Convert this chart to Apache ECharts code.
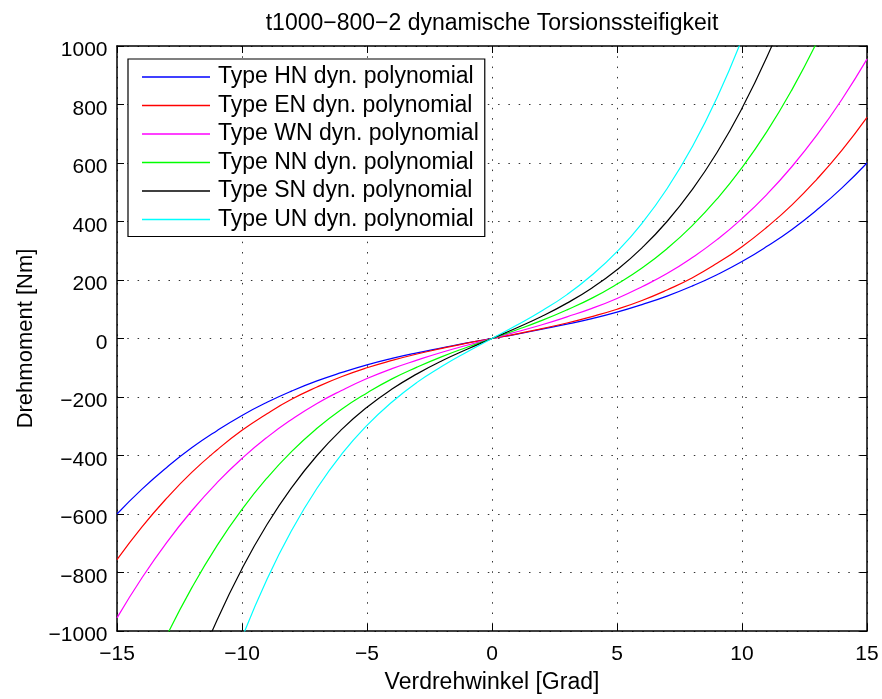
<!DOCTYPE html>
<html>
<head>
<meta charset="utf-8">
<script src="https://cdn.jsdelivr.net/npm/echarts@6/dist/echarts.min.js"></script>
<style>
html,body{margin:0;padding:0;background:#fff;}
#c{width:882px;height:699px;}
</style>
</head>
<body>
<div id="c"></div>
<script>
const xs = [-15,-14,-13,-12,-11,-10,-9,-8,-7,-6,-5,-4,-3,-2,-1,0,1,2,3,4,5,6,7,8,9,10,11,12,13,14,15];
const seriesNames = ['Type HN dyn. polynomial','Type EN dyn. polynomial','Type WN dyn. polynomial','Type NN dyn. polynomial','Type SN dyn. polynomial','Type UN dyn. polynomial'];
const seriesColors = ['#0000ff','#ff0000','#ff00ff','#00ff00','#000000','#00ffff'];
const hn = [-600,-515,-440,-373,-315,-263,-218,-179,-145,-116,-90,-68,-49,-32,-15,0,15,32,49,68,90,116,145,179,218,263,315,373,440,515,600];
const en = [-756,-644,-545,-457,-381,-314,-257,-207,-166,-130,-100,-75,-53,-34,-16,0,16,34,53,75,100,130,166,207,257,314,381,457,545,644,756];
const wn = [-955,-818,-696,-588,-493,-410,-338,-276,-222,-177,-137,-103,-74,-47,-23,0,23,47,74,103,137,177,222,276,338,410,493,588,696,818,955];
const nn = [-1408,-1199,-1014,-851,-708,-584,-477,-385,-307,-241,-186,-138,-98,-62,-30,0,30,62,98,138,186,241,307,385,477,584,708,851,1014,1199,1408];
const sn = [-1973,-1670,-1402,-1167,-963,-787,-636,-508,-400,-310,-235,-173,-121,-76,-37,0,37,76,121,173,235,310,400,508,636,787,963,1167,1402,1670,1973];
const un = [-2612,-2205,-1846,-1532,-1259,-1024,-823,-654,-512,-394,-297,-217,-150,-95,-46,0,46,95,150,217,297,394,512,654,823,1024,1259,1532,1846,2205,2612];
const xTicks = [-15,-10,-5,0,5,10,15];
const yTicks = [-1000,-800,-600,-400,-200,0,200,400,600,800,1000];

const allVals = [hn,en,wn,nn,sn,un];
const FONT = "'Liberation Sans', Arial, Helvetica, sans-serif";
const fmt = v => String(v).replace('-', '\u2212');

const chart = echarts.init(document.getElementById('c'));
const gridDots = {show:true, lineStyle:{color:'#333', width:1, type:[1.5,8.8]}};
chart.setOption({
  animation:false,
  backgroundColor:'#fff',
  title:{
    text:'t1000\u2212800\u22122 dynamische Torsionssteifigkeit',
    left:492, textAlign:'center', top:12, padding:0,
    textStyle:{fontFamily:FONT, fontSize:23, fontWeight:'normal', color:'#000'}
  },
  grid:{left:117, right:15, top:46, bottom:61, containLabel:false},
  legend:{
    orient:'vertical', left:128, top:59,
    padding:[6,6,5,14], itemGap:4.5, itemWidth:68, itemHeight:1.4,
    icon:'rect',
    backgroundColor:'#fff', borderColor:'#000', borderWidth:1.2, borderRadius:0,
    textStyle:{fontFamily:FONT, fontSize:23, color:'#000', lineHeight:24, padding:[0,0,0,3]},
    data:seriesNames
  },
  xAxis:[{
    type:'value', min:-15, max:15, interval:5, position:'bottom',
    name:'Verdrehwinkel [Grad]', nameLocation:'middle', nameGap:40,
    nameTextStyle:{fontFamily:FONT, fontSize:23, color:'#000'},
    axisLine:{show:true, onZero:false, lineStyle:{color:'#000', width:1.5}},
    axisTick:{show:true, inside:true, length:7, lineStyle:{color:'#000', width:1}},
    axisLabel:{fontFamily:FONT, fontSize:21, color:'#000', margin:13, formatter:fmt},
    splitLine:gridDots
  },{
    type:'value', min:-15, max:15, interval:5, position:'top',
    axisLine:{show:true, onZero:false, lineStyle:{color:'#000', width:1.5}},
    axisTick:{show:true, inside:true, length:7, lineStyle:{color:'#000', width:1}},
    axisLabel:{show:false}, splitLine:{show:false}
  }],
  yAxis:[{
    type:'value', min:-1000, max:1000, interval:200, position:'left',
    name:'Drehmoment [Nm]', nameLocation:'middle', nameGap:80, nameRotate:90,
    nameTextStyle:{fontFamily:FONT, fontSize:22, color:'#000'},
    axisLine:{show:true, onZero:false, lineStyle:{color:'#000', width:1.5}},
    axisTick:{show:true, inside:true, length:7, lineStyle:{color:'#000', width:1}},
    axisLabel:{fontFamily:FONT, fontSize:21, color:'#000', margin:9.5, verticalAlign:'top', lineHeight:9, formatter:fmt},
    splitLine:gridDots
  },{
    type:'value', min:-1000, max:1000, interval:200, position:'right',
    axisLine:{show:true, onZero:false, lineStyle:{color:'#000', width:1.5}},
    axisTick:{show:true, inside:true, length:7, lineStyle:{color:'#000', width:1}},
    axisLabel:{show:false}, splitLine:{show:false}
  }],
  series: seriesNames.map((name,k)=>({
    name:name, type:'line', xAxisIndex:0, yAxisIndex:0,
    data: xs.map((x,i)=>[x, allVals[k][i]]),
    smooth:true, symbol:'none', showSymbol:false, clip:true,
    lineStyle:{color:seriesColors[k], width:1.2},
    itemStyle:{color:seriesColors[k]}
  }))
});
</script>
</body>
</html>
